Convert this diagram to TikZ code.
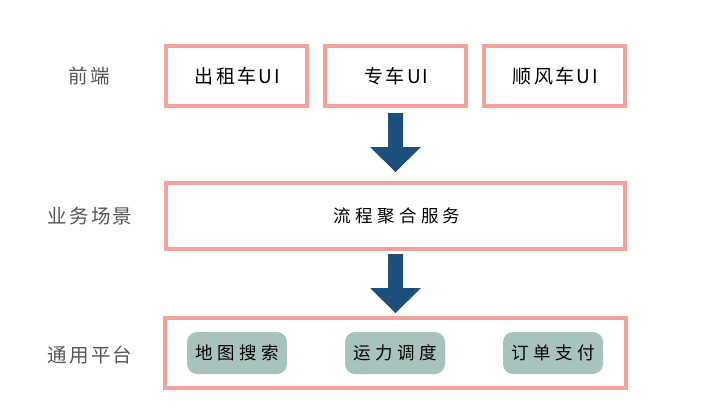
\documentclass[tikz,border=0pt]{standalone}
\usepackage{fontspec}
\newfontfamily\cjk{Noto Sans CJK SC}
\newfontfamily\cjkwide[LetterSpace=25]{Noto Sans CJK SC}
\newfontfamily\cjkmid[LetterSpace=12]{Noto Sans CJK SC}
\definecolor{pinkline}{HTML}{F4A29B}
\definecolor{pillfill}{HTML}{A8C3BD}
\definecolor{arrowblue}{HTML}{1D4F7C}
\definecolor{labelgray}{HTML}{555555}
\tikzset{
  layerbox/.style={draw=pinkline, line width=3.8pt, fill=white},
  pill/.style={fill=pillfill, rounded corners=10pt, minimum width=100pt, minimum height=42pt, font=\cjkwide\fontsize{17.5}{17.5}\selectfont, text=black, inner sep=0pt},
  boxtext/.style={font=\cjkmid\fontsize{19}{19}\selectfont, text=black},
  sidelabel/.style={font=\cjkmid\fontsize{19.5}{19.5}\selectfont, text=labelgray},
  bigarrow/.style={fill=arrowblue, draw=none}
}
\begin{document}
\begin{tikzpicture}[x=1pt,y=-1pt]
\useasboundingbox (0,0) rectangle (705,416);
% top boxes
\draw[layerbox] (166,46) rectangle (307,106);
\draw[layerbox] (325,46) rectangle (466,106);
\draw[layerbox] (484,46) rectangle (625,106);
\node[boxtext] (t1) at (237.5,76) {出租车UI};
\node[boxtext] (t2) at (396.5,76) {专车UI};
\node[boxtext] (t3) at (555.5,76) {顺风车UI};
% middle
\draw[layerbox] (166,183) rectangle (625,249);
\node[font=\cjkwide\fontsize{17.5}{17.5}\selectfont] (m) at (397,216) {流程聚合服务};
% bottom
\draw[layerbox] (165,318) rectangle (626,388);
\node[pill] (p1) at (237,353) {地图搜索};
\node[pill] (p2) at (395,353) {运力调度};
\node[pill] (p3) at (553,353) {订单支付};
% arrows
\fill[bigarrow] (388,113) -- (403,113) -- (403,147) -- (421,147) -- (395.5,172) -- (370,147) -- (388,147) -- cycle;
\fill[bigarrow] (388,254) -- (403,254) -- (403,288) -- (421,288) -- (395.5,313) -- (370,288) -- (388,288) -- cycle;
% labels
\node[sidelabel] (l1) at (89,76) {前端};
\node[sidelabel] (l2) at (90,216) {业务场景};
\node[sidelabel] (l3) at (90,355) {通用平台};
\end{tikzpicture}
\end{document}
